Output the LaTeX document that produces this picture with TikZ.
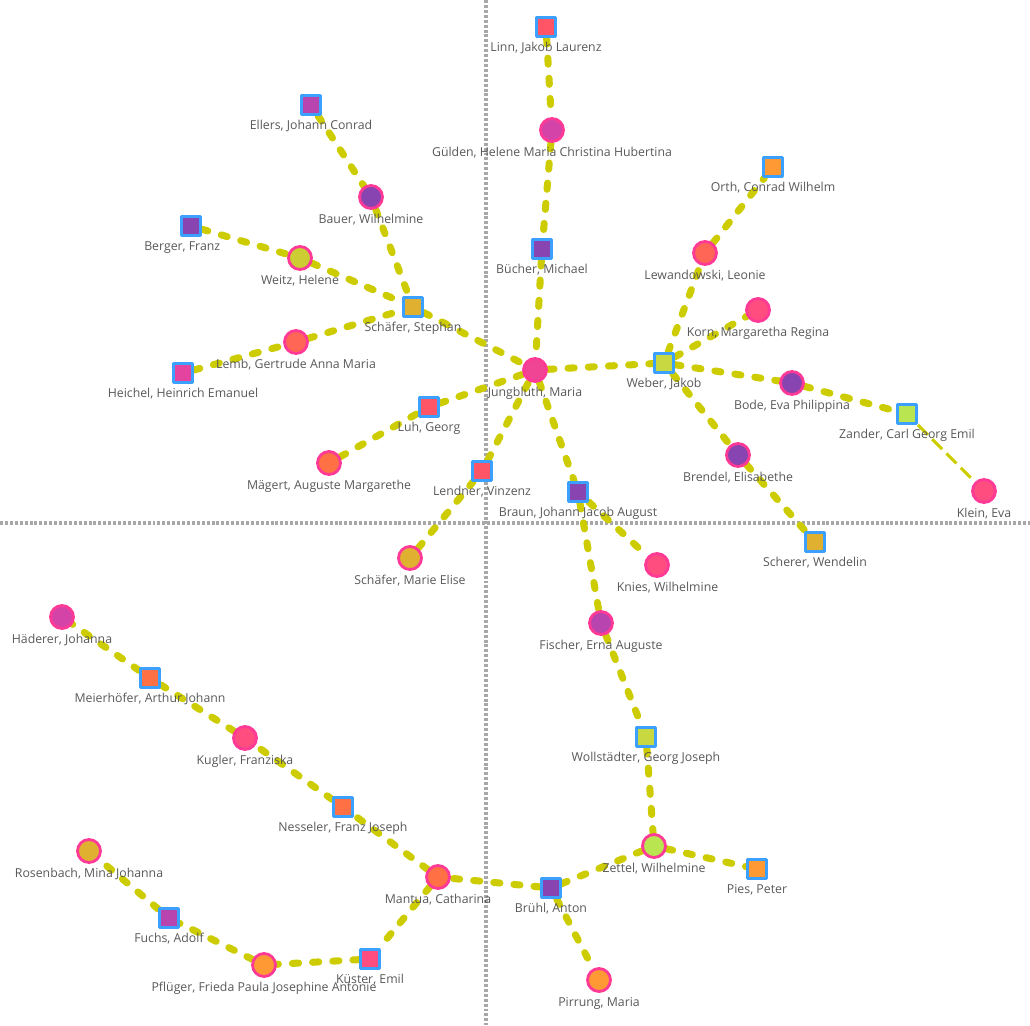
\documentclass[tikz,border=0pt]{standalone}
\usepackage{fontspec}
\setmainfont{Open Sans}
\usetikzlibrary{backgrounds}
\definecolor{sqline}{HTML}{3BA0FF}
\definecolor{ciline}{HTML}{FF3A96}
\definecolor{linkcol}{HTML}{CCCC00}
\definecolor{axiscol}{HTML}{A8A8A8}
\definecolor{lbltext}{HTML}{585858}
\definecolor{redpink}{HTML}{FF5566}
\definecolor{magenta}{HTML}{D444A8}
\definecolor{purple}{HTML}{8844B0}
\definecolor{hotpink}{HTML}{F04494}
\definecolor{orchid}{HTML}{B844B0}
\definecolor{olive}{HTML}{CCCC33}
\definecolor{gold}{HTML}{E0B030}
\definecolor{coral}{HTML}{FF6655}
\definecolor{pinkmag}{HTML}{E444A0}
\definecolor{orangered}{HTML}{FF7044}
\definecolor{rose}{HTML}{FF4D80}
\definecolor{lime}{HTML}{C8D840}
\definecolor{lightgreen}{HTML}{B8E550}
\definecolor{orange}{HTML}{FF9933}
\begin{document}
\begin{tikzpicture}[x=0.02cm, y=-0.02cm, font=\fontsize{7}{8}\selectfont, line join=round,
	sq/.style={rectangle, draw=sqline, line width=1.6pt, fill=#1, minimum size=0.38cm, inner sep=0pt},
	ci/.style={circle, draw=ciline, line width=1.6pt, fill=#1, minimum size=0.46cm, inner sep=0pt},
	lbl/.style={text=lbltext, inner sep=1pt, text height=5.2pt, text depth=1.5pt, label distance=1.6pt},
	link/.style={draw=linkcol, line width=4pt, line cap=round, dash pattern=on 3.5pt off 8pt},
	thinlink/.style={draw=linkcol, line width=1.7pt, dash pattern=on 8pt off 3.5pt},
	axis/.style={draw=axiscol, line width=1.8pt, dash pattern=on 1.7pt off 1.1pt}]
	\useasboundingbox (0,0) rectangle (1030,1025);
	% Knoten oben
	\node[sq=redpink, label={[lbl]below:{Linn, Jakob Laurenz}}] (linn) at (546,27) {};
	\node[ci=magenta, label={[lbl]below:{Gülden, Helene Maria Christina Hubertina}}] (guelden) at (552,130) {};
	\node[sq=purple, label={[lbl]below:{Bücher, Michael}}] (buecher) at (542,249) {};
	\node[ci=hotpink, label={[lbl]below:{Jungbluth, Maria}}] (jungbluth) at (535,370) {};
	\node[sq=orchid, label={[lbl]below:{Ellers, Johann Conrad}}] (ellers) at (311,105) {};
	\node[ci=purple, label={[lbl]below:{Bauer, Wilhelmine}}] (bauer) at (371,197) {};
	\node[sq=purple, label={[lbl, xshift=-5]below:{Berger, Franz}}] (berger) at (191,226) {};
	\node[ci=olive, label={[lbl]below:{Weitz, Helene}}] (weitz) at (300,258) {};
	\node[sq=gold, label={[lbl]below:{Schäfer, Stephan}}] (schaeferS) at (413,307) {};
	\node[ci=coral, label={[lbl]below:{Lemb, Gertrude Anna Maria}}] (lemb) at (296,342) {};
	\node[sq=pinkmag, label={[lbl]below:{Heichel, Heinrich Emanuel}}] (heichel) at (183,373) {};
	\node[sq=redpink, label={[lbl]below:{Luh, Georg}}] (luh) at (429,407) {};
	\node[ci=orangered, label={[lbl]below:{Mägert, Auguste Margarethe}}] (maegert) at (329,463) {};
	\node[sq=redpink, label={[lbl]below:{Lendner, Vinzenz}}] (lendner) at (482,471) {};
	\node[ci=gold, label={[lbl]below:{Schäfer, Marie Elise}}] (schaeferM) at (410,558) {};
	% Knoten rechts
	\node[sq=lime, label={[lbl]below:{Weber, Jakob}}] (weber) at (664,363) {};
	\node[ci=coral, label={[lbl]below:{Lewandowski, Leonie}}] (lewandowski) at (705,253) {};
	\node[sq=orange, label={[lbl]below:{Orth, Conrad Wilhelm}}] (orth) at (773,167) {};
	\node[ci=rose, label={[lbl]below:{Korn, Margaretha Regina}}] (korn) at (758,310) {};
	\node[ci=purple, label={[lbl]below:{Bode, Eva Philippina}}] (bode) at (792,383) {};
	\node[sq=lightgreen, label={[lbl]below:{Zander, Carl Georg Emil}}] (zander) at (907,414) {};
	\node[ci=rose, label={[lbl]below:{Klein, Eva}}] (klein) at (984,491) {};
	\node[ci=purple, label={[lbl]below:{Brendel, Elisabethe}}] (brendel) at (738,455) {};
	\node[sq=gold, label={[lbl]below:{Scherer, Wendelin}}] (scherer) at (815,542) {};
	% Knoten unten
	\node[sq=purple, label={[lbl]below:{Braun, Johann Jacob August}}] (braun) at (578,492) {};
	\node[ci=rose, label={[lbl, xshift=6]below:{Knies, Wilhelmine}}] (knies) at (657,565) {};
	\node[ci=orchid, label={[lbl]below:{Fischer, Erna Auguste}}] (fischer) at (601,623) {};
	\node[sq=lime, label={[lbl]below:{Wollstädter, Georg Joseph}}] (wollstaedter) at (646,737) {};
	\node[ci=lightgreen, label={[lbl]below:{Zettel, Wilhelmine}}] (zettel) at (654,846) {};
	\node[sq=orange, label={[lbl]below:{Pies, Peter}}] (pies) at (757,869) {};
	\node[sq=purple, label={[lbl]below:{Brühl, Anton}}] (bruehl) at (551,888) {};
	\node[ci=orange, label={[lbl]below:{Pirrung, Maria}}] (pirrung) at (599,980) {};
	\node[ci=orangered, label={[lbl]below:{Mantua, Catharina}}] (mantua) at (438,877) {};
	\node[sq=orangered, label={[lbl]below:{Nesseler, Franz Joseph}}] (nesseler) at (343,807) {};
	\node[ci=rose, label={[lbl]below:{Kugler, Franziska}}] (kugler) at (245,738) {};
	\node[sq=orangered, label={[lbl]below:{Meierhöfer, Arthur Johann}}] (meierhoefer) at (150,678) {};
	\node[ci=magenta, label={[lbl]below:{Häderer, Johanna}}] (haederer) at (62,617) {};
	\node[sq=rose, label={[lbl]below:{Küster, Emil}}] (kuester) at (370,959) {};
	\node[ci=orange, label={[lbl]below:{Pflüger, Frieda Paula Josephine Antonie}}] (pflueger) at (264,965) {};
	\node[sq=orchid, label={[lbl]below:{Fuchs, Adolf}}] (fuchs) at (169,918) {};
	\node[ci=gold, label={[lbl]below:{Rosenbach, Mina Johanna}}] (rosenbach) at (89,851) {};
	\begin{scope}[on background layer]
		\draw[axis] (486,0)--(486,1025) (0,523)--(1030,523);
		\draw[link] (linn)--(guelden)--(buecher)--(jungbluth)
			(ellers)--(bauer)--(schaeferS) (berger)--(weitz)--(schaeferS) (heichel)--(lemb)--(schaeferS)
			(schaeferS)--(jungbluth) (maegert)--(luh)--(jungbluth) (schaeferM)--(lendner)--(jungbluth)
			(jungbluth)--(weber) (weber)--(lewandowski)--(orth) (weber)--(korn) (weber)--(bode)--(zander)
			(weber)--(brendel)--(scherer)
			(jungbluth)--(braun)--(knies) (braun)--(fischer)--(wollstaedter)--(zettel)--(pies)
			(zettel)--(bruehl)--(pirrung) (bruehl)--(mantua)
			(mantua)--(nesseler)--(kugler)--(meierhoefer)--(haederer)
			(mantua)--(kuester)--(pflueger)--(fuchs)--(rosenbach);
		\draw[thinlink] (zander)--(klein);
	\end{scope}
\end{tikzpicture}
\end{document}
